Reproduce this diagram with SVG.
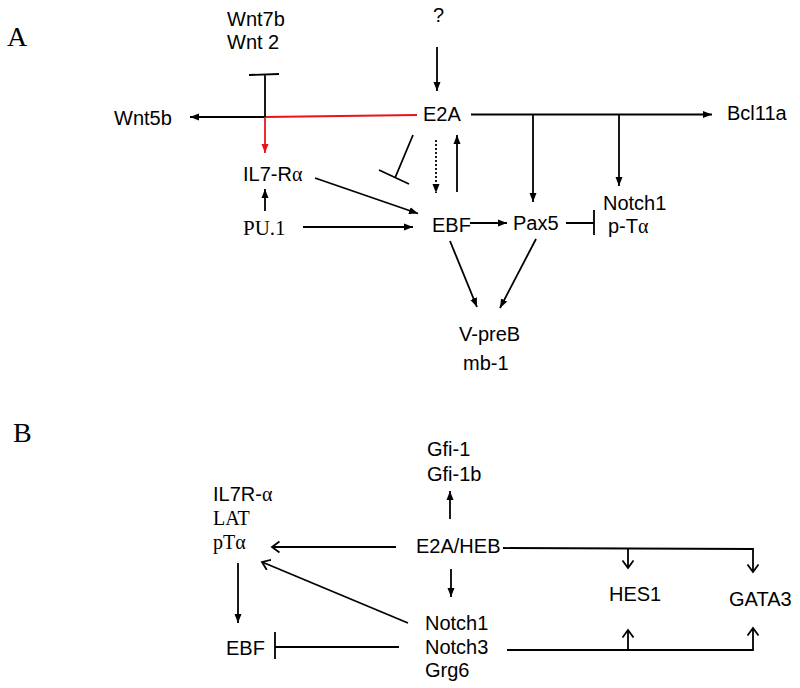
<svg xmlns="http://www.w3.org/2000/svg" width="800" height="688" viewBox="0 0 800 688">
<style>
text{font-family:"Liberation Sans",Arial,sans-serif;font-size:20px;fill:#000}
.serif{font-family:"Liberation Serif","Times New Roman",serif}
.panel{font-family:"Liberation Serif","Times New Roman",serif;font-size:28px}
.ln{stroke:#000;stroke-width:1.8;fill:none}
.red{stroke:#e8141b}
.dot{stroke-dasharray:2 2}
</style>
<defs>
<marker id="ah" markerUnits="userSpaceOnUse" markerWidth="10" markerHeight="8" refX="9" refY="4" orient="auto">
<path d="M0,0.5 L9,4 L0,7.5 z" fill="#000"/>
</marker>
<marker id="ahr" markerUnits="userSpaceOnUse" markerWidth="10" markerHeight="8" refX="9" refY="4" orient="auto">
<path d="M0,0.5 L9,4 L0,7.5 z" fill="#e8141b"/>
</marker>
<marker id="oa" markerUnits="userSpaceOnUse" markerWidth="10" markerHeight="14" refX="8" refY="6" orient="auto">
<path d="M0.5,0.5 L8,6 L0.5,11.5" fill="none" stroke="#000" stroke-width="1.8"/>
</marker>
</defs>

<text class="panel" x="7" y="46">A</text>
<text class="panel" x="13" y="442">B</text>

<g id="connectors">
<!-- Panel A -->
<path class="ln" d="M437,47 L437,91" marker-end="url(#ah)"/>
<path class="ln red" d="M417,115 L265,117"/>
<path class="ln" d="M265,117 L190,117" marker-end="url(#ah)"/>
<path class="ln red" d="M265,117 L265,153" marker-end="url(#ahr)"/>
<path class="ln" d="M265,117 L265,75 M249,75 L279,74"/>
<path class="ln" d="M471,114.5 L712,114.5" marker-end="url(#ah)"/>
<path class="ln" d="M533,114.5 L533,202" marker-end="url(#ah)"/>
<path class="ln" d="M619,114.5 L619,186" marker-end="url(#ah)"/>
<path class="ln" d="M413,135 L395,178 M379,170 L409,184"/>
<path class="ln dot" d="M436,140 L436,193" marker-end="url(#ah)"/>
<path class="ln" d="M457,192 L457,135" marker-end="url(#ah)"/>
<path class="ln" d="M315,178 L418,213.5" marker-end="url(#ah)"/>
<path class="ln" d="M303,227 L413,227" marker-end="url(#ah)"/>
<path class="ln" d="M265,211 L265,189" marker-end="url(#ah)"/>
<path class="ln" d="M470,223 L507,223" marker-end="url(#ah)"/>
<path class="ln" d="M566,223 L594,223 M594,210 L594,235"/>
<path class="ln" d="M450,241 L477,307" marker-end="url(#ah)"/>
<path class="ln" d="M536,239 L500,308" marker-end="url(#ah)"/>
<!-- Panel B -->
<path class="ln" d="M450,519 L450,491" marker-end="url(#ah)"/>
<path class="ln" d="M396,547 L272,547" marker-end="url(#oa)"/>
<path class="ln" d="M408,623 L262,562" marker-end="url(#oa)"/>
<path class="ln" d="M238,563 L238,623" marker-end="url(#ah)"/>
<path class="ln" d="M399,647 L275,647 M275,632 L275,659"/>
<path class="ln" d="M451,569 L451,597" marker-end="url(#ah)"/>
<path class="ln" d="M503,548 L753,549 L753,572" marker-end="url(#oa)"/>
<path class="ln" d="M628,548.5 L628,568" marker-end="url(#oa)"/>
<path class="ln" d="M507,650 L753,650 L753,628" marker-end="url(#oa)"/>
<path class="ln" d="M628,650 L628,630" marker-end="url(#oa)"/>
</g>

<!-- Panel A nodes -->
<g id="wnt7b"><text x="227" y="26">Wnt7b</text><text x="227" y="49">Wnt 2</text></g>
<g id="q"><text x="433" y="22">?</text></g>
<g id="wnt5b"><text x="114" y="125">Wnt5b</text></g>
<g id="e2a"><text x="423" y="121">E2A</text></g>
<g id="bcl11a"><text x="727" y="120">Bcl11a</text></g>
<g id="il7ra"><text x="243" y="181">IL7-R<tspan class="serif">α</tspan></text></g>
<g id="pu1"><text class="serif" x="243" y="235" style="font-size:21px">PU.1</text></g>
<g id="ebf-a"><text x="432" y="232">EBF</text></g>
<g id="pax5"><text x="513" y="230">Pax5</text></g>
<g id="notch1-a"><text x="603" y="210">Notch1</text><text x="608" y="233">p-T<tspan class="serif">α</tspan></text></g>
<g id="vpreb"><text x="459" y="341">V-preB</text><text x="463" y="370">mb-1</text></g>

<!-- Panel B nodes -->
<g id="gfi"><text x="427" y="456">Gfi-1</text><text x="427" y="481">Gfi-1b</text></g>
<g id="il7r-b"><text x="213" y="501">IL7R-<tspan class="serif">α</tspan></text><text class="serif" x="213" y="525">LAT</text><text class="serif" x="213" y="549">pT<tspan>α</tspan></text></g>
<g id="e2aheb"><text x="416" y="553">E2A/HEB</text></g>
<g id="hes1"><text x="609" y="601">HES1</text></g>
<g id="gata3"><text x="729" y="606">GATA3</text></g>
<g id="notch-b"><text x="425" y="630">Notch1</text><text x="425" y="654">Notch3</text><text x="425" y="677">Grg6</text></g>
<g id="ebf-b"><text x="226" y="655">EBF</text></g>
</svg>
